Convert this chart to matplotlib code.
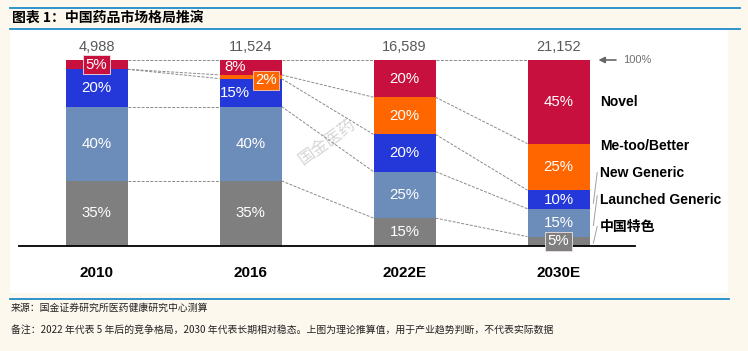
import matplotlib.pyplot as plt
from matplotlib.patches import Rectangle
from matplotlib.lines import Line2D
import numpy as np

# data
years = ['2010', '2016', '2022E', '2030E']
totals = ['4,988', '11,524', '16,589', '21,152']
series = ['中国特色', 'Launched Generic', 'New Generic', 'Me-too/Better', 'Novel']
tcm = [35, 35, 15, 5]
launched = [40, 40, 25, 15]
new_generic = [20, 15, 20, 10]
metoo = [0, 2, 20, 25]
novel = [5, 8, 20, 45]
colors = ['#7F7F7F', '#6C8CBA', '#2438DA', '#FF6600', '#C8103E']

NUM = ['Liberation Sans Narrow', 'Liberation Sans', 'DejaVu Sans']
CJK = ['Liberation Sans Narrow', 'Liberation Sans', 'Noto Sans CJK SC']

W, H = 748, 351
fig = plt.figure(figsize=(W / 100, H / 100), dpi=100, facecolor='#FDF8EE')

# figure decorations in pixel units
def fx(px):
    return px / W

def fy(r):
    return 1 - r / H

fig.patches.append(Rectangle((fx(10), fy(293)), fx(728) - fx(10), fy(29) - fy(293),
                             transform=fig.transFigure, fc='white', ec='none', zorder=-10))
for r, x1 in [(8, 740), (28.5, 740), (298.5, 729)]:
    fig.add_artist(Line2D([fx(10), fx(x1)], [fy(r), fy(r)], color='#1E8BC8', lw=1.3))

fig.text(fx(12), fy(17.5), '图表 1：中国药品市场格局推演', fontsize=10, fontweight='bold',
         family=['Noto Sans CJK SC'], va='center', ha='left', style='italic')
fig.text(fx(11), fy(308), '来源：国金证券研究所医药健康研究中心测算', fontsize=7.1,
         family=['Noto Sans CJK SC'], va='center', ha='left', color='#222222')
fig.text(fx(11), fy(331), '备注：2022 年代表 5 年后的竞争格局，2030 年代表长期相对稳态。上图为理论推算值，用于产业趋势判断，不代表实际数据',
         fontsize=7.1, family=['Noto Sans CJK SC'], va='center', ha='left', color='#222222')

# chart axes: covers the figure, bars at 154 px spacing, 100% = 186 px
ax = fig.add_axes([0, 0, 1, 1], zorder=1)
ax.set_facecolor('none')
ax.set_xlim(-96.5 / 154, (W - 96.5) / 154)
ax.set_ylim((246 - H) / 1.86, 246 / 1.86)
ax.axis('off')

x = np.arange(len(years))
bw = 62 / 154
stack = [tcm, launched, new_generic, metoo, novel]
bottom = np.zeros(len(years))
bounds = []
for vals, c in zip(stack, colors):
    ax.bar(x, vals, bw, bottom=bottom, color=c, lw=0, zorder=2)
    bottom = bottom + np.array(vals)
    bounds.append(bottom.copy())

# dashed connectors between segment boundaries
for b in bounds:
    for i in range(len(years) - 1):
        ax.plot([x[i] + bw / 2, x[i + 1] - bw / 2], [b[i], b[i + 1]],
                ls=(0, (3, 1.5)), color='#8A8A8A', lw=0.7, zorder=1)

# baseline
ax.plot([(19 - 96.5) / 154, (635 - 96.5) / 154], [0, 0], color='black', lw=1.3, zorder=3)

pct_size = 10.8
tot_size = 10.5
yr_size = 11
lab_size = 10

# segment labels
bottom = np.zeros(len(years))
for k, vals in enumerate(stack):
    for i, v in enumerate(vals):
        if v == 0:
            continue
        cy = bottom[i] + v / 2
        cx = x[i]
        box = None
        if v <= 5:
            box = dict(boxstyle='square,pad=0.15', fc=colors[k], ec='#EDE3E3', lw=0.6)
        if years[i] == '2016' and series[k] in ('Novel', 'New Generic'):
            cx = x[i] - 0.1
        if years[i] == '2016' and series[k] == 'Me-too/Better':
            cx = x[i] + 0.1
            cy = cy - 2
            box = dict(boxstyle='square,pad=0.15', fc=colors[k], ec='#F5D0B0', lw=0.6)
        ax.text(cx, cy, f'{v}%', color='white', fontsize=pct_size, family=NUM,
                ha='center', va='center', bbox=box, zorder=5)
    bottom = bottom + np.array(vals)

# totals on top
for i, t in enumerate(totals):
    ax.text(x[i], 107, t, color='#595959', fontsize=tot_size, family=NUM,
            ha='center', va='center')

# year labels
for i, yr in enumerate(years):
    ax.text(x[i], (246 - 273) / 1.86, yr, fontsize=yr_size, fontweight='bold', family=NUM,
            ha='center', va='center')

# 100% arrow
ax.annotate('', xy=(x[3] + bw / 2 + 0.04, 100), xytext=(x[3] + bw / 2 + 0.19, 100),
            arrowprops=dict(arrowstyle='-|>', color='#666666', lw=1.2, mutation_scale=9))
ax.text(x[3] + bw / 2 + 0.22, 100, '100%', color='#707070', fontsize=8, family=NUM,
        ha='left', va='center')

# series labels on the right
label_y = [10.2, 24.7, 39.2, 53.8, 77.4]
lx = x[3] + bw / 2 + 0.07
for name, ly in zip(series, label_y):
    ax.text(lx, ly, name, fontsize=lab_size, fontweight='bold', family=CJK,
            ha='left', va='center', zorder=5)
# leader lines
lead = [(1.5, 10.5), (11, 27), (23, 39.5)]
for y0, y1 in lead:
    ax.plot([x[3] + bw / 2 + 0.025, x[3] + bw / 2 + 0.05], [y0, y1],
            color='#A0A0A0', lw=0.7)

# watermark
ax.text((327 - 96.5) / 154, (246 - 142) / 1.86, '国金医药', rotation=36, fontsize=12,
        family=['Noto Sans CJK SC'], color='#D6D6D6', ha='center', va='center', zorder=0)

fig.savefig('out.png', dpi=100, facecolor=fig.get_facecolor())
